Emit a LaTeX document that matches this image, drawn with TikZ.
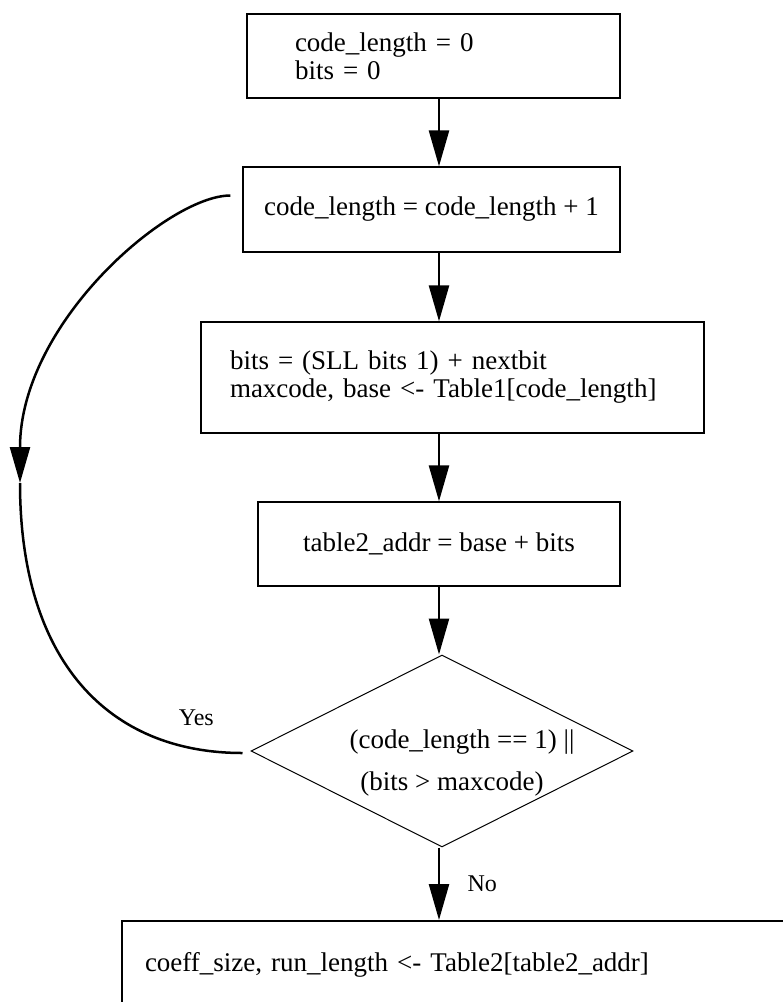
\documentclass[tikz,border=0pt]{standalone}
\usepackage{fontspec}
\setmainfont{Liberation Serif}
\usetikzlibrary{calc, positioning}
\usetikzlibrary{arrows.meta}
\usetikzlibrary{shapes.geometric}
\def\bw{1.3pt}
\def\aw{2.5pt}
\tikzset{
    block/.style = {
        draw, rectangle, line width=\bw, inner xsep=0pt, inner ysep=0pt, align=center, font=\fontsize{27}{28}\selectfont
    },
    leftblock/.style = {
        block, align=left, text width=#1
    },
    decision/.style = {
        draw, diamond, aspect=2, inner sep=0pt, line width=1pt
    },
    plaintext/.style = {
        inner sep=0pt, align=center, font=\fontsize{27}{28}\selectfont
    },
    flow/.style = {
        line width=\aw, -{Triangle[length=36pt, width=20pt]}
    },
    edgelabel/.style = {
        font=\fontsize{24}{26}\selectfont
    },
}

\begin{document}
\begin{tikzpicture}[x=1pt, y=-1pt]
    \useasboundingbox (0,0) rectangle (783,1002);
    % Place the blocks
    \node[leftblock=277pt, minimum width=373pt, minimum height=84pt] (init) at (433.5,56) {code\_length = 0\\bits = 0};
    \node[block, minimum width=377pt, minimum height=85pt] (incr) at (431.5,209.5) {code\_length = code\_length + 1};
    \node[leftblock=445pt, minimum width=503pt, minimum height=111pt] (load) at (452.5,377.5) {bits = (SLL bits 1) + nextbit\\maxcode, base <- Table1[code\_length]};
    \node[block, minimum width=362pt, minimum height=84pt] (addr) at (439,544) {table2\_addr = base + bits};
    \node[decision, minimum width=382pt, minimum height=192pt] (test) at (442,751) {};
    \node[plaintext] (testtext) at ($(test.center)+(10,12)$) {\hspace*{20pt}(code\_length == 1) ||\\[14pt](bits > maxcode)};
    \node[leftblock=632pt, minimum width=678pt, minimum height=88pt, line width=2pt] (fetch) at (461,965) {coeff\_size, run\_length <- Table2[table2\_addr]};

    % Draw connections
    \coordinate (spine) at (439,0);
    \draw[flow] (init.south -| spine) -- (incr.north -| spine);
    \draw[flow] (incr.south -| spine) -- (load.north -| spine);
    \draw[flow] (load.south -| spine) -- (addr.north -| spine);
    \draw[flow] (addr.south -| spine) -- (test.north -| spine);
    \draw[flow] (test.south -| spine) -- node[midway, anchor=west, xshift=24pt, edgelabel]{No} (fetch.north -| spine);

    % Loop back on the left
    \coordinate (turn) at (20,483);
    \draw[flow] ($(incr.west)+(-12,-14)$) .. controls +(-62,0) and +(0,-160) .. (turn);
    \draw[line width=\aw] (turn) .. controls +(0,177) and +(-135,0) .. ($(test.west)+(-8,2)$) node[pos=0.87, above=18pt, xshift=4pt, edgelabel]{Yes};
\end{tikzpicture}
\end{document}
